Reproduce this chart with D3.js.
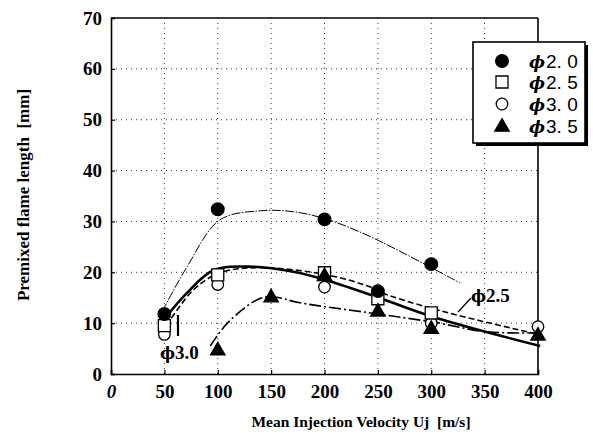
<!DOCTYPE html>
<html><head><meta charset="utf-8">
<script src="https://cdn.jsdelivr.net/npm/d3@7"></script>
<style>body{margin:0;background:#fff}svg{display:block}</style>
</head><body>
<svg id="c" width="593" height="439"></svg>
<script>
// ---- data ----
const xTicks = [0,50,100,150,200,250,300,350,400];
const yTicks = [0,10,20,30,40,50,60,70];
const seriesNames = ["2. 0","2. 5","3. 0","3. 5"];
// measured points [velocity, length]
const pts20 = [[50,11.8],[100,32.4],[200,30.4],[250,16.3],[300,21.6]];
const pts25 = [[50,9.5],[100,19.5],[200,19.9],[250,14.8],[300,12.0]];
const pts30 = [[50,7.8],[100,17.6],[200,17.1],[300,10.0],[400,9.3]];
const pts35 = [[100,4.8],[150,15.2],[200,19.4],[250,12.4],[300,9.0],[400,7.7]];
// fitted curves
const fit20 = [[48,12.3],[71,21],[102,30.3],[140,32.1],[171,31.9],[201,30.5],[243,27],[327,17.9]];
const fit25 = [[52,9.5],[77,16.5],[102,19.9],[140,20.9],[202,19.5],[243,17.1],[251,16.2],[302,12.8],[402,7.7]];
const fit30 = [[50,10.8],[71,15.9],[96,20.4],[133,21.1],[171,20.1],[201,18.5],[243,15.6],[302,11.2],[402,5.5]];
const fit35 = [[93,5.5],[109,10],[137,14.6],[151,15.2],[177,14],[243,12],[302,10.2],[352,8.3],[402,8.1]];

const svg = d3.select("#c");
const x = d3.scaleLinear().domain([0,400]).range([111,538]);
const y = d3.scaleLinear().domain([0,70]).range([374,18]);
const serif = "'Liberation Serif','Times New Roman',serif";

// grid
const g = svg.append("g");
g.selectAll(".vg").data(xTicks.filter(d=>d>0&&d<400)).join("line")
  .attr("x1",d=>x(d)).attr("x2",d=>x(d)).attr("y1",y(0)).attr("y2",y(70))
  .attr("stroke","#333").attr("stroke-width",1).attr("stroke-dasharray","1,4");
g.selectAll(".hg").data(yTicks.filter(d=>d>0&&d<70)).join("line")
  .attr("x1",x(0)).attr("x2",x(400)).attr("y1",d=>y(d)).attr("y2",d=>y(d))
  .attr("stroke","#333").attr("stroke-width",1).attr("stroke-dasharray","1,4");

// axes
const xAx = svg.append("g").attr("transform",`translate(0,${y(0)})`)
  .call(d3.axisBottom(x).tickValues(xTicks).tickSize(-4).tickPadding(11));
const yAx = svg.append("g").attr("transform",`translate(${x(0)},0)`)
  .call(d3.axisLeft(y).tickValues(yTicks).tickSize(-4).tickPadding(9));
[xAx,yAx].forEach(a=>{
  a.select(".domain").attr("stroke","#000").attr("stroke-width",1.6);
  a.selectAll(".tick line").attr("stroke","#000").attr("stroke-width",1.2);
  a.selectAll("text").attr("font-family",serif).attr("font-weight","bold")
   .attr("font-size",19).attr("fill","#000");
});
xAx.selectAll(".tick").filter(d=>d===0).select("text").attr("font-style","italic");
// top and right frame
svg.append("line").attr("x1",x(0)).attr("x2",x(400)).attr("y1",y(70)).attr("y2",y(70))
  .attr("stroke","#000").attr("stroke-width",1.6);
svg.append("line").attr("x1",x(400)).attr("x2",x(400)).attr("y1",y(70)).attr("y2",y(0))
  .attr("stroke","#000").attr("stroke-width",1.6);

// curves
const line = d3.line().x(d=>x(d[0])).y(d=>y(d[1])).curve(d3.curveCatmullRom.alpha(0.5));
svg.append("path").datum(fit20).attr("d",line).attr("fill","none")
  .attr("stroke","#000").attr("stroke-width",1).attr("stroke-dasharray","9,1.5,1.5,1.5");
svg.append("path").datum(fit25).attr("d",line).attr("fill","none")
  .attr("stroke","#000").attr("stroke-width",1.6).attr("stroke-dasharray","6,3");
svg.append("path").datum(fit30).attr("d",line).attr("fill","none")
  .attr("stroke","#000").attr("stroke-width",2.6);
svg.append("path").datum(fit35).attr("d",line).attr("fill","none")
  .attr("stroke","#000").attr("stroke-width",1.6).attr("stroke-dasharray","12,3,2,3");

// markers
const sym = {
  circleF: d3.symbol().type(d3.symbolCircle).size(125),
  square: d3.symbol().type(d3.symbolSquare).size(145),
  circleO: d3.symbol().type(d3.symbolCircle).size(105),
  tri: d3.symbol().type(d3.symbolTriangle).size(90)
};
function drawPts(data, s, filled, dy){
  svg.append("g").selectAll("path").data(data).join("path")
    .attr("d",s).attr("transform",d=>`translate(${x(d[0])},${y(d[1])+(dy||0)})`)
    .attr("fill",filled?"#000":"#fff").attr("stroke","#000").attr("stroke-width",1.3);
}
drawPts(pts30, sym.circleO, false);
drawPts(pts25, sym.square, false);
drawPts(pts20, sym.circleF, true);
drawPts(pts35, sym.tri, true, 1);

// annotations
svg.append("line").attr("x1",458).attr("y1",312).attr("x2",471).attr("y2",298)
  .attr("stroke","#000").attr("stroke-width",1.3);
const a1 = svg.append("text").attr("x",471).attr("y",302)
  .attr("font-family",serif).attr("font-weight","bold").attr("font-size",19);
a1.append("tspan").attr("font-family","'DejaVu Serif',serif").attr("font-size",16).text("ϕ");
a1.append("tspan").text("2.5");
svg.append("line").attr("x1",178).attr("y1",315).attr("x2",178).attr("y2",336)
  .attr("stroke","#000").attr("stroke-width",2.2);
const a2 = svg.append("text").attr("x",160).attr("y",359)
  .attr("font-family",serif).attr("font-weight","bold").attr("font-size",19);
a2.append("tspan").attr("font-family","'DejaVu Serif',serif").attr("font-size",16).text("ϕ");
a2.append("tspan").text("3.0");

// legend
const lg = svg.append("g");
lg.append("rect").attr("x",476).attr("y",45).attr("width",112).attr("height",101).attr("fill","#000");
lg.append("rect").attr("x",473).attr("y",42).attr("width",112).attr("height",101)
  .attr("fill","#fff").attr("stroke","#000").attr("stroke-width",1.6);
const lgY = [61,82,104,126];
const lgSym = [[sym.circleF,true],[sym.square,false],[sym.circleO,false],[sym.tri,true]];
seriesNames.forEach((n,i)=>{
  lg.append("path").attr("d",lgSym[i][0]).attr("transform",`translate(502,${lgY[i]+(i===3?1:0)})`)
    .attr("fill",lgSym[i][1]?"#000":"#fff").attr("stroke","#000").attr("stroke-width",1.3);
  const t = lg.append("text").attr("x",529).attr("y",lgY[i]+7)
    .attr("font-family","'Liberation Sans',Arial,sans-serif").attr("font-size",19);
  t.append("tspan").attr("font-family","'DejaVu Serif',serif").attr("font-style","italic")
    .attr("font-weight","bold").attr("font-size",17).text("ϕ");
  t.append("tspan").attr("dx",1).style("white-space","pre").text(n);
});

// axis titles
svg.append("text").attr("x",361).attr("y",427).attr("text-anchor","middle")
  .text("Mean Injection Velocity Uj  [m/s]").attr("font-family",serif)
  .attr("font-weight","bold").attr("font-size",15.5).style("white-space","pre");
svg.append("text").attr("transform","translate(29,195) rotate(-90)").attr("text-anchor","middle")
  .text("Premixed flame length  [mm]").attr("font-family",serif)
  .attr("font-weight","bold").attr("font-size",17).style("white-space","pre");
</script>
</body></html>
